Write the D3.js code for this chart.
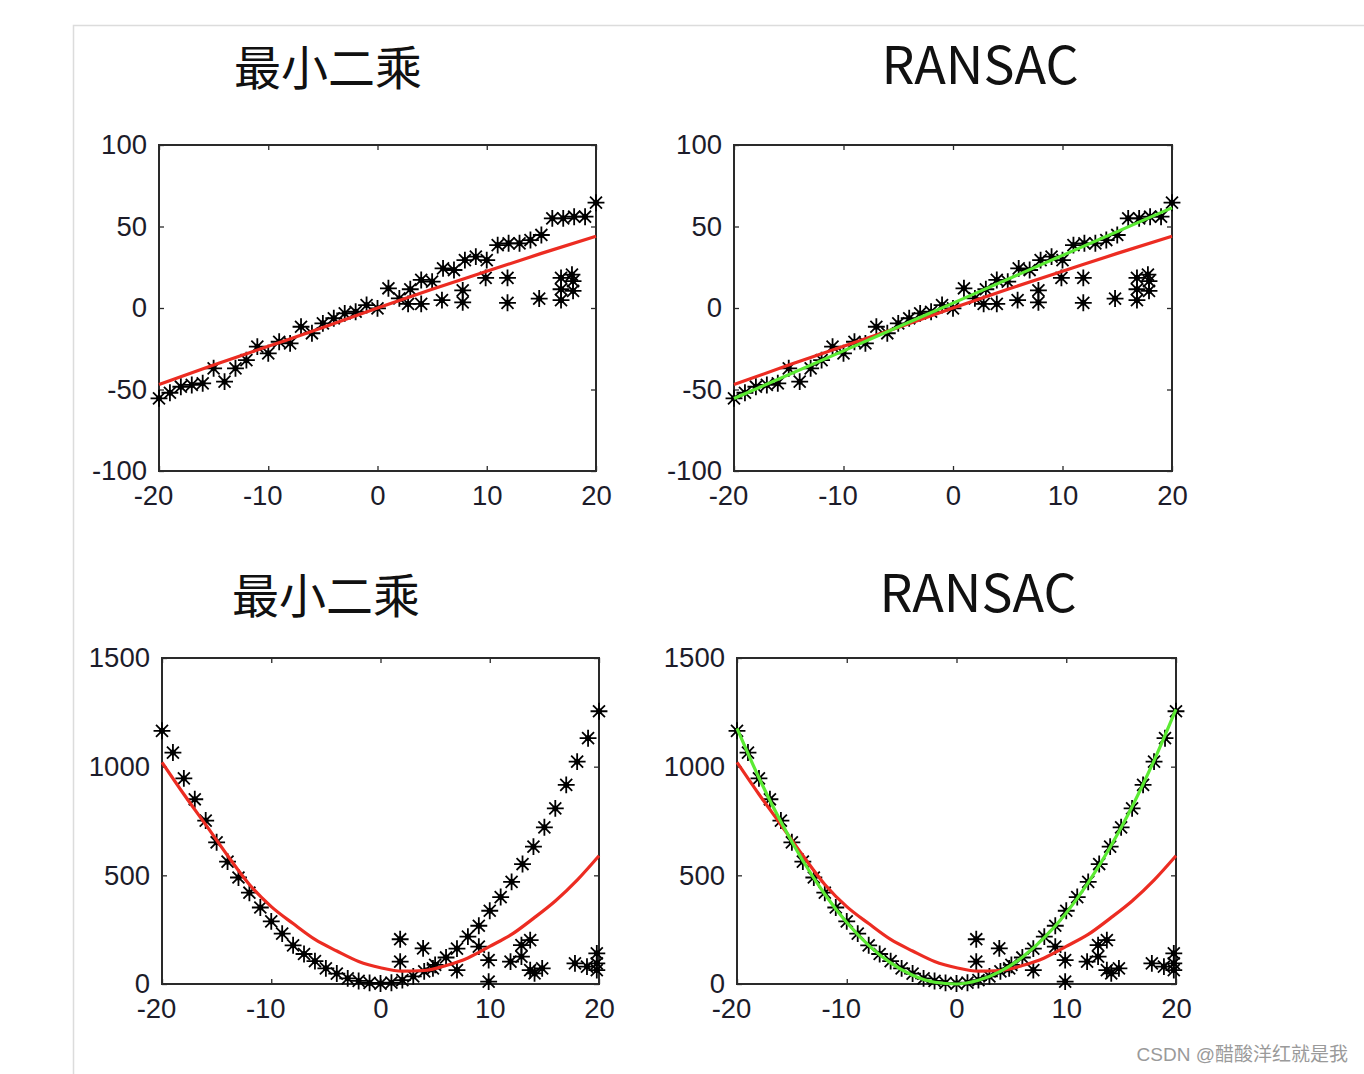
<!DOCTYPE html>
<html>
<head>
	<meta charset="utf-8">
	<script src="https://cdnjs.cloudflare.com/ajax/libs/d3/7.8.5/d3.min.js"></script>
	<style>
		body { margin: 0 ; background: #fff ; }
		svg { display: block ; }
		.tick-label { font-family: "Liberation Sans", Arial, sans-serif ; font-size: 27.5px ; fill: #1c1c2a ; }
		.title { font-family: "Noto Sans CJK SC", "Noto Sans", sans-serif ; font-size: 47px ; fill: #111 ; }
		.title-latin { font-size: 52px ; }
	</style>
</head>
<body>
<svg id="canvas"></svg>
<script>
	// titles and ticks
	let titles = [ "最小二乘", "RANSAC", "最小二乘", "RANSAC" ] ;
	let xTicks = [ -20, -10, 0, 10, 20 ] ;
	let yTicksLine = [ -100, -50, 0, 50, 100 ] ;
	let yTicksQuad = [ 0, 500, 1000, 1500 ] ;
	let watermark = "CSDN @醋酸洋红就是我" ;

	// linear data: inliers then outliers
	let lineX = [ -20, -19, -18, -17, -16, -15, -14, -13, -12, -11, -10, -9, -8, -7, -6, -5, -4, -3, -2, -1,
		0, 1, 2, 3, 4, 5, 6, 7, 8, 9, 10, 11, 12, 13, 14, 15, 16, 17, 18, 19, 20,
		2.8, 4.0, 5.9, 7.8, 7.8, 9.9, 11.9, 11.9, 14.8, 16.8, 16.8, 16.8, 17.8, 17.9, 17.9 ] ;
	let lineY = [ -55.4, -52, -48.3, -47.2, -46.2, -37, -45.2, -37, -32, -23.7, -27.8, -20.7, -21.7, -11.5, -15.5, -9.4, -6.3, -3.3, -2.3, 1.8,
		-0.2, 12.1, 5.9, 11.5, 17.2, 16.2, 24.3, 23.3, 29.4, 31.5, 29.4, 38.6, 39.7, 39.7, 41.7, 44.8, 55, 55, 56, 56, 64.6,
		2.5, 2.5, 4.8, 10.8, 3.5, 18.5, 18.5, 3.2, 5.8, 18.5, 11.5, 4.8, 20.5, 16.5, 10.5 ] ;

	// fitted lines for the linear data
	let lineFitX = [ -20, -15, -10, -5, 0, 5, 10, 15, 20 ] ;
	let lineLsq = [ -47, -35, -23.5, -12, 0, 11.5, 22.5, 33.5, 44 ] ;
	let lineRansacX = [ -20, -10, 0, 10, 20 ] ;
	let lineRansac = [ -55.5, -26.3, 3, 32.3, 61.5 ] ;

	// quadratic data: inliers then outliers
	let quadX = [ -20, -19, -18, -17, -16, -15, -14, -13, -12, -11, -10, -9, -8, -7, -6, -5, -4, -3, -2, -1,
		0, 1, 2, 3, 4, 5, 6, 7, 8, 9, 10, 11, 12, 13, 14, 15, 16, 17, 18, 19, 20,
		1.8, 1.8, 3.9, 4.8, 7.0, 9.0, 9.9, 9.9, 11.9, 12.9, 12.9, 13.7, 13.7, 14.1, 14.8, 17.8, 18.9, 19.8, 19.8, 19.8 ] ;
	let quadY = [ 1165, 1065, 946, 850, 752, 652, 563, 490, 420, 352, 288, 232, 178, 138, 105, 72, 48, 26, 14, 5,
		2, 6, 18, 35, 58, 88, 122, 163, 218, 268, 337, 400, 470, 552, 632, 721, 808, 916, 1023, 1131, 1255,
		206, 103, 164, 72, 64, 172, 110, 11, 103, 179, 126, 202, 64, 49, 72, 95, 80, 141, 95, 64 ] ;

	// fitted curves for the quadratic data
	let quadFitX = [ -20, -18, -16, -14, -12, -10, -8, -6, -4, -2, 0, 2, 4, 6, 8, 10, 12, 14, 16, 18, 20 ] ;
	let quadLsq = [ 1020, 873, 733, 591, 458, 356, 278, 205, 152, 104, 75, 59, 62, 85, 120, 173, 228, 302, 382, 478, 590 ] ;
	let quadRansac = [ 1176, 949, 746, 567, 413, 283, 178, 97, 40, 8, 0, 17, 58, 123, 213, 327, 466, 629, 816, 1028, 1264 ] ;

	let colors = { red: "#ec2c22", green: "#5bea33", axis: "#2a2a2a", frame: "#dcdcdc" } ;

	let zip = ( xs, ys ) => xs.map( ( x, i ) => [ x, ys[i] ] ) ;

	let panels = [
		{ title: titles[0], box: [ 159, 596, 145, 471 ], titleX: 328, titleY: 85,
			yDomain: [ -100, 100 ], yTicks: yTicksLine,
			pts: zip( lineX, lineY ), fits: [ { d: zip( lineFitX, lineLsq ), c: colors.red } ] },
		{ title: titles[1], box: [ 734, 1172, 145, 471 ], titleX: 980, titleY: 84,
			yDomain: [ -100, 100 ], yTicks: yTicksLine,
			pts: zip( lineX, lineY ), fits: [ { d: zip( lineFitX, lineLsq ), c: colors.red }, { d: zip( lineRansacX, lineRansac ), c: colors.green } ] },
		{ title: titles[2], box: [ 162, 599, 658, 984 ], titleX: 326, titleY: 613,
			yDomain: [ 0, 1500 ], yTicks: yTicksQuad,
			pts: zip( quadX, quadY ), fits: [ { d: zip( quadFitX, quadLsq ), c: colors.red } ] },
		{ title: titles[3], box: [ 737, 1176, 658, 984 ], titleX: 978, titleY: 612,
			yDomain: [ 0, 1500 ], yTicks: yTicksQuad,
			pts: zip( quadX, quadY ), fits: [ { d: zip( quadFitX, quadLsq ), c: colors.red }, { d: zip( quadFitX, quadRansac ), c: colors.green } ] }
	] ;

	let svg = d3.select( "#canvas" )
		.attr( "width", 1364 )
		.attr( "height", 1074 ) ;

	// page frame
	svg.append( "path" )
		.attr( "d", "M73.5,1074V25.5H1364" )
		.attr( "fill", "none" )
		.attr( "stroke", colors.frame )
		.attr( "stroke-width", 1.5 ) ;

	let plusSym = d3.symbol( d3.symbolPlus, 95 ) ;
	let timesSym = d3.symbol( d3.symbolTimes, 95 ) ;
	let fmt = d => String( d ) ;   // plain hyphen minus, no thousands comma

	panels.forEach( p => {
		let [ l, r, t, b ] = p.box ;
		let x = d3.scaleLinear().domain( [ -20, 20 ] ).range( [ l, r ] ) ;
		let y = d3.scaleLinear().domain( p.yDomain ).range( [ b, t ] ) ;
		let g = svg.append( "g" ) ;

		g.append( "text" )
			.attr( "class", /^[A-Z]+$/.test( p.title ) ? "title title-latin" : "title" )
			.attr( "x", p.titleX )
			.attr( "y", p.titleY )
			.attr( "text-anchor", "middle" )
			.text( p.title ) ;

		// inward ticks on all four sides, labels left and bottom
		let tl = 5 ;
		let styleTicks = a => {
			a.select( ".domain" ).remove() ;
			a.selectAll( "line" ).attr( "stroke", colors.axis ).attr( "stroke-width", 1.3 ) ;
			a.attr( "font-size", null ).attr( "font-family", null ) ;
			a.selectAll( "text" ).attr( "class", "tick-label" ).attr( "fill", null ) ;
		} ;
		g.append( "g" ).attr( "transform", "translate(0," + b + ")" )
			.call( d3.axisBottom( x ).tickValues( xTicks ).tickSize( -tl ).tickPadding( 14 ).tickFormat( fmt ) )
			.call( styleTicks )
			.call( a => a.selectAll( "text" ).attr( "dx", d => d < 0 ? -6 : 0 ) ) ;
		g.append( "g" ).attr( "transform", "translate(0," + t + ")" )
			.call( d3.axisTop( x ).tickValues( xTicks ).tickSize( -tl ).tickFormat( "" ) )
			.call( styleTicks ) ;
		g.append( "g" ).attr( "transform", "translate(" + l + ",0)" )
			.call( d3.axisLeft( y ).tickValues( p.yTicks ).tickSize( -tl ).tickPadding( 12 ).tickFormat( fmt ) )
			.call( styleTicks ) ;
		g.append( "g" ).attr( "transform", "translate(" + r + ",0)" )
			.call( d3.axisRight( y ).tickValues( p.yTicks ).tickSize( -tl ).tickFormat( "" ) )
			.call( styleTicks ) ;

		g.append( "rect" )
			.attr( "x", l ).attr( "y", t )
			.attr( "width", r - l ).attr( "height", b - t )
			.attr( "fill", "none" )
			.attr( "stroke", colors.axis )
			.attr( "stroke-width", 2 ) ;

		// asterisk markers
		let mk = g.append( "g" ).selectAll( "g" )
			.data( p.pts )
			.join( "g" )
			.attr( "transform", d => "translate(" + x( d[0] ) + "," + y( d[1] ) + ")" ) ;
		mk.append( "path" ).attr( "d", plusSym ).attr( "stroke", "#000" ).attr( "stroke-width", 1.8 ).attr( "fill", "none" ) ;
		mk.append( "path" ).attr( "d", timesSym ).attr( "stroke", "#000" ).attr( "stroke-width", 1.8 ).attr( "fill", "none" ) ;
		mk.append( "circle" ).attr( "r", 3 ).attr( "fill", "#000" ) ;

		// fitted lines
		let lf = d3.line()
			.x( d => x( d[0] ) )
			.y( d => y( d[1] ) )
			.curve( d3.curveMonotoneX ) ;
		p.fits.forEach( f => {
			g.append( "path" )
				.attr( "d", lf( f.d ) )
				.attr( "fill", "none" )
				.attr( "stroke", f.c )
				.attr( "stroke-width", 3.2 ) ;
		} ) ;
	} ) ;

	svg.append( "text" )
		.attr( "x", 1348 )
		.attr( "y", 1061 )
		.attr( "text-anchor", "end" )
		.attr( "font-family", "'Liberation Sans', 'Noto Sans CJK SC', sans-serif" )
		.attr( "font-size", 19 )
		.attr( "fill", "#9a9a9a" )
		.text( watermark ) ;
</script>
</body>
</html>
